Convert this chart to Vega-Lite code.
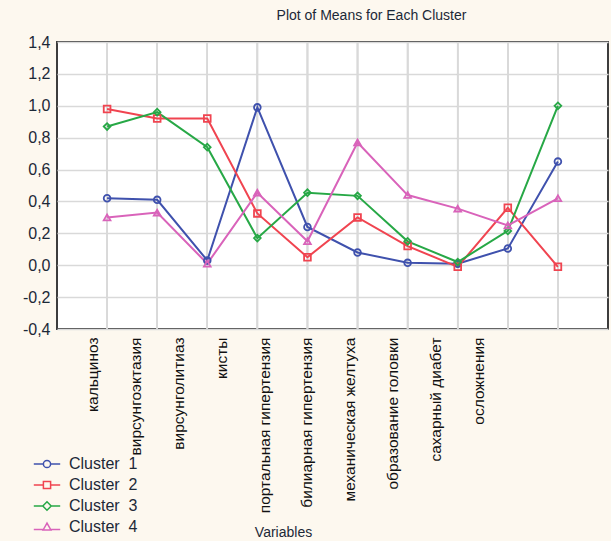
{
  "$schema": "https://vega.github.io/schema/vega-lite/v6.json",
  "width": 551,
  "height": 287,
  "autosize": {"type": "none"},
  "padding": {"left": 57, "top": 42, "right": 3, "bottom": 212},
  "background": "#fdf8ef",
  "title": {"text": "Plot of Means for Each Cluster", "fontSize": 14, "fontWeight": "normal", "font": "Liberation Sans", "color": "#1c2837", "dx": 39, "offset": 11, "anchor": "middle"},
  "config": {
    "view": {"fill": "white", "stroke": "#3d3d3d", "strokeWidth": 2},
    "font": "Liberation Sans",
    "axisY": {"labelOverlap": false, "labelBound": false, "labelFlush": false}
  },
  "data": {"values": [
    {"var": "кальциноз", "cluster": "Cluster\u00a0\u00a01", "value": 0.42},
    {"var": "вирсунгоэктазия", "cluster": "Cluster\u00a0\u00a01", "value": 0.41},
    {"var": "вирсунголитиаз", "cluster": "Cluster\u00a0\u00a01", "value": 0.03},
    {"var": "кисты", "cluster": "Cluster\u00a0\u00a01", "value": 0.99},
    {"var": "портальная гипертензия", "cluster": "Cluster\u00a0\u00a01", "value": 0.24},
    {"var": "билиарная гипертензия", "cluster": "Cluster\u00a0\u00a01", "value": 0.08},
    {"var": "механическая желтуха", "cluster": "Cluster\u00a0\u00a01", "value": 0.015},
    {"var": "образование головки", "cluster": "Cluster\u00a0\u00a01", "value": 0.01},
    {"var": "сахарный диабет", "cluster": "Cluster\u00a0\u00a01", "value": 0.105},
    {"var": "осложнения", "cluster": "Cluster\u00a0\u00a01", "value": 0.65},
    {"var": "кальциноз", "cluster": "Cluster\u00a0\u00a02", "value": 0.98},
    {"var": "вирсунгоэктазия", "cluster": "Cluster\u00a0\u00a02", "value": 0.92},
    {"var": "вирсунголитиаз", "cluster": "Cluster\u00a0\u00a02", "value": 0.92},
    {"var": "кисты", "cluster": "Cluster\u00a0\u00a02", "value": 0.325},
    {"var": "портальная гипертензия", "cluster": "Cluster\u00a0\u00a02", "value": 0.05},
    {"var": "билиарная гипертензия", "cluster": "Cluster\u00a0\u00a02", "value": 0.30},
    {"var": "механическая желтуха", "cluster": "Cluster\u00a0\u00a02", "value": 0.12},
    {"var": "образование головки", "cluster": "Cluster\u00a0\u00a02", "value": -0.01},
    {"var": "сахарный диабет", "cluster": "Cluster\u00a0\u00a02", "value": 0.36},
    {"var": "осложнения", "cluster": "Cluster\u00a0\u00a02", "value": -0.01},
    {"var": "кальциноз", "cluster": "Cluster\u00a0\u00a03", "value": 0.87},
    {"var": "вирсунгоэктазия", "cluster": "Cluster\u00a0\u00a03", "value": 0.96},
    {"var": "вирсунголитиаз", "cluster": "Cluster\u00a0\u00a03", "value": 0.74},
    {"var": "кисты", "cluster": "Cluster\u00a0\u00a03", "value": 0.17},
    {"var": "портальная гипертензия", "cluster": "Cluster\u00a0\u00a03", "value": 0.455},
    {"var": "билиарная гипертензия", "cluster": "Cluster\u00a0\u00a03", "value": 0.435},
    {"var": "механическая желтуха", "cluster": "Cluster\u00a0\u00a03", "value": 0.15},
    {"var": "образование головки", "cluster": "Cluster\u00a0\u00a03", "value": 0.02},
    {"var": "сахарный диабет", "cluster": "Cluster\u00a0\u00a03", "value": 0.215},
    {"var": "осложнения", "cluster": "Cluster\u00a0\u00a03", "value": 1.0},
    {"var": "кальциноз", "cluster": "Cluster\u00a0\u00a04", "value": 0.30},
    {"var": "вирсунгоэктазия", "cluster": "Cluster\u00a0\u00a04", "value": 0.33},
    {"var": "вирсунголитиаз", "cluster": "Cluster\u00a0\u00a04", "value": 0.01},
    {"var": "кисты", "cluster": "Cluster\u00a0\u00a04", "value": 0.455},
    {"var": "портальная гипертензия", "cluster": "Cluster\u00a0\u00a04", "value": 0.15},
    {"var": "билиарная гипертензия", "cluster": "Cluster\u00a0\u00a04", "value": 0.77},
    {"var": "механическая желтуха", "cluster": "Cluster\u00a0\u00a04", "value": 0.44},
    {"var": "образование головки", "cluster": "Cluster\u00a0\u00a04", "value": 0.355},
    {"var": "сахарный диабет", "cluster": "Cluster\u00a0\u00a04", "value": 0.25},
    {"var": "осложнения", "cluster": "Cluster\u00a0\u00a04", "value": 0.42}
  ]},
  "layer": [
    {
      "layer": [
        {
          "mark": {"type": "rule", "color": "#d9d9d9", "strokeWidth": 1.5},
          "encoding": {
            "x": {"field": "var", "type": "nominal", "sort": null, "scale": {"type": "point", "padding": 1}, "axis": null}
          }
        },
        {
          "mark": {"type": "line", "strokeWidth": 2},
          "encoding": {
            "x": {"field": "var", "type": "nominal", "sort": null, "scale": {"type": "point", "padding": 1}, "axis": null},
            "y": {"field": "value", "type": "quantitative", "scale": {"domain": [-0.4, 1.4], "nice": false, "zero": false},
              "axis": {"values": [-0.4, -0.2, 0, 0.2, 0.4, 0.6, 0.8, 1.0, 1.2, 1.4], "labelExpr": "replace(replace(format(datum.value, '.1f'), '.', ','), '\u2212', '-')", "labelOverlap": false, "labelBound": false, "labelFlush": false, "grid": true, "gridColor": "#d9d9d9", "gridWidth": 1.5, "ticks": false, "domain": false, "labelFontSize": 16, "labelColor": "#1c2837", "labelPadding": 7, "title": null}},
            "color": {"field": "cluster", "type": "nominal", "scale": {"range": ["#3f51ad", "#f04450", "#27a846", "#d963ba"]}, "legend": null}
          }
        },
        {
          "mark": {"type": "point", "filled": false, "strokeWidth": 1.8, "size": 45, "opacity": 1},
          "encoding": {
            "x": {"field": "var", "type": "nominal", "sort": null, "scale": {"type": "point", "padding": 1}, "axis": null},
            "y": {"field": "value", "type": "quantitative",
              "axis": {"values": [-0.4, -0.2, 0, 0.2, 0.4, 0.6, 0.8, 1.0, 1.2, 1.4], "labelExpr": "replace(replace(format(datum.value, '.1f'), '.', ','), '\u2212', '-')", "labelOverlap": false, "labelBound": false, "labelFlush": false, "grid": true, "gridColor": "#d9d9d9", "gridWidth": 1.5, "ticks": false, "domain": false, "labelFontSize": 16, "labelColor": "#1c2837", "labelPadding": 7, "title": null}},
            "color": {"field": "cluster", "type": "nominal", "legend": null},
            "shape": {"field": "cluster", "type": "nominal", "scale": {"range": ["circle", "square", "diamond", "triangle-up"]}, "legend": null}
          }
        }
      ]
    },
    {
      "mark": {"type": "point", "opacity": 0, "filled": false},
      "encoding": {
        "x": {"field": "var", "type": "nominal", "sort": null, "scale": {"type": "point", "padding": 0, "range": [35.5, 421.5]},
          "axis": {"labelAngle": -90, "labelAlign": "right", "labelBaseline": "middle", "labelFontSize": 15.5, "labelColor": "#111111", "labelPadding": 8, "ticks": false, "domain": false, "grid": false, "labelOverlap": false, "labelLimit": 0, "title": "Variables", "titleFontSize": 14, "titleFontWeight": "normal", "titleColor": "#1c2837", "titleX": 226, "titleY": 203, "titleBaseline": "middle", "titleAlign": "center"}},
        "color": {"field": "cluster", "type": "nominal", "scale": {"range": ["#3f51ad", "#f04450", "#27a846", "#d963ba"]},
          "legend": {"orient": "none", "legendX": -18, "legendY": 414, "title": null, "labelFontSize": 16, "labelColor": "#1c2837", "symbolSize": 144, "symbolStrokeWidth": 1.5, "symbolOpacity": 1, "labelOffset": 14, "rowPadding": 5, "padding": 0}},
        "shape": {"field": "cluster", "type": "nominal", "scale": {"range": [
          "M-2.2,0H-0.6M0.6,0H2.2M0.6,0A0.6,0.6,0,1,1,-0.6,0A0.6,0.6,0,1,1,0.6,0Z",
          "M-2.2,0H-0.6M0.6,0H2.2M-0.6,-0.6H0.6V0.6H-0.6Z",
          "M-2.2,0H-0.7M0.7,0H2.2M0,-0.7L0.7,0L0,0.7L-0.7,0Z",
          "M-2.2,0.4H-0.6M0.6,0.4H2.2M-0.65,0.5L0,-0.65L0.65,0.5Z"
        ]}, "legend": {"orient": "none", "legendX": -18, "legendY": 414, "title": null}}
      }
    }
  ],
  "resolve": {"scale": {"x": "independent", "color": "independent", "shape": "independent"}, "axis": {"x": "independent"}}
}
